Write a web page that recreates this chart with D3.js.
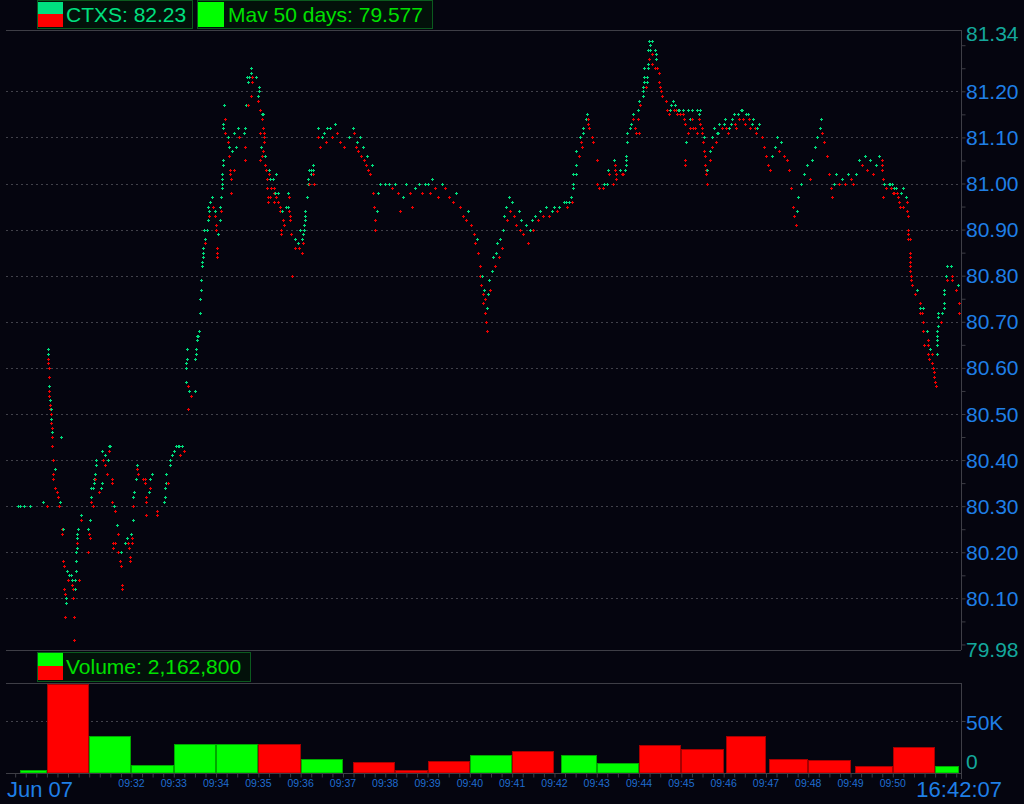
<!DOCTYPE html>
<html><head><meta charset="utf-8">
<script src="https://cdn.jsdelivr.net/npm/d3@7"></script>
<style>html,body{margin:0;background:#05050f;}svg{display:block}</style>
</head><body><svg id="c" width="1024" height="804"></svg>
<script>
// ---------- data ----------
const legendPrice = "CTXS: 82.23";
const legendMav = "Mav 50 days: 79.577";
const legendVolume = "Volume: 2,162,800";
const priceRange = [79.988, 81.333];
const priceTicks = [81.20, 81.10, 81.00, 80.90, 80.80, 80.70, 80.60, 80.50, 80.40, 80.30, 80.20, 80.10];
const priceTickLabels = ["81.20","81.10","81.00","80.90","80.80","80.70","80.60","80.50","80.40","80.30","80.20","80.10"];
const priceEndLabels = ["81.34", "79.98"];
const volumeMax = 86500;
const volumeTicks = [50000];
const volumeTickLabels = ["50K"];
const volumeZeroLabel = "0";
const timeLabelSec = [120,180,240,300,360,420,480,540,600,660,720,780,840,900,960,1020,1080,1140,1200];
const timeLabels = ["09:32","09:33","09:34","09:35","09:36","09:37","09:38","09:39","09:40","09:41","09:42","09:43","09:44","09:45","09:46","09:47","09:48","09:49","09:50"];
const dateLabel = "Jun 07";
const clockLabel = "16:42:07";
const timeDomainSec = [-58, 1296.7]; // seconds from 09:30:00

// trades: [seconds after 09:30:00, price]
const trades = [
[-41,80.30],[-38,80.30],[-33,80.30],[-24,80.30],[-6,80.31],
[0.5,80.30],[1,80.64],[1.3,80.63],[1.6,80.62],[1.9,80.63],[2.2,80.61],[2.5,80.60],[2.8,80.58],[3.1,80.55],[3.4,80.56],[3.7,80.54],[4,80.53],[4.3,80.52],[4.6,80.53],[4.9,80.51],[5.2,80.50],[5.5,80.51],[5.8,80.49],[6.1,80.48],[6.4,80.49],[6.7,80.47],[7,80.46],[7.3,80.45],[7.6,80.46],[7.9,80.43],[8.2,80.40],
[8.5,80.37],[9,80.36],[11,80.38],[12,80.34],[14,80.33],[16,80.32],[17,80.30],[18,80.31],[20,80.45],[21,80.25],[22,80.24],[22.5,80.25],
[23,80.18],[24,80.17],[24.5,80.12],[25,80.11],[26,80.06],[26.5,80.09],[27,80.10],
[29,80.16],[30,80.14],[31,80.15],[34,80.15],[35,80.13],[36,80.14],[37,80.12],[37.5,80.10],[38,80.06],[39,80.01],[40,80.12],[40.5,80.14],[41,80.16],[41.5,80.18],[42,80.20],[42.3,80.21],[42.6,80.23],[43,80.22],[43.3,80.24],[43.6,80.25],[46,80.14],[48,80.28],[48.5,80.27],
[58,80.20],[59,80.25],[60,80.24],[60.5,80.23],[61,80.27],[62,80.32],[62.5,80.31],[63,80.34],[65,80.30],[66,80.34],[67,80.35],[67.5,80.36],[68,80.37],[68.5,80.36],[69,80.39],[69.5,80.40],
[74,80.33],[77,80.34],[78,80.35],[78.5,80.42],[80,80.40],[82,80.39],[83,80.41],[85,80.37],[86,80.40],[88,80.43],[88.5,80.42],[90,80.43],[92,80.36],[92.5,80.35],[93,80.31],
[93.5,80.22],[94,80.21],[95.5,80.30],[96,80.29],[96.5,80.22],[100,80.26],[100.5,80.24],[101,80.20],[104,80.18],[104.5,80.17],[105,80.20],[106,80.13],[106.5,80.12],
[111,80.22],[114,80.23],[115,80.22],[117,80.21],[118,80.19],[118.5,80.18],[120,80.24],[120.5,80.23],[121,80.22],[121.5,80.27],[122,80.32],[122.5,80.30],[124,80.33],
[126,80.36],[128,80.39],[128.5,80.38],[129,80.37],[136,80.36],[139,80.36],[139.5,80.35],[140,80.32],[140.5,80.31],[141,80.28],[145,80.33],[146,80.36],[146.5,80.34],[149,80.37],
[156,80.29],[156.5,80.28],
[166,80.31],[167,80.32],[168,80.34],[168.5,80.35],[169,80.37],[172,80.35],[174,80.39],[175,80.40],[178,80.41],[180,80.42],[183,80.43],[186,80.43],[188,80.43],[189,80.41],[192,80.43],[195,80.42],
[197,80.57],[197.5,80.60],[198,80.61],[198.5,80.62],[199,80.64],[199.5,80.56],[200,80.51],[201,80.55],[205,80.54],[210,80.55],[210.5,80.62],[211,80.63],[211.5,80.64],[213,80.66],[213.5,80.67],[215,80.67],[216,80.68],
[217,80.72],[217.5,80.75],[218,80.77],[218.5,80.79],
[220,80.82],[220.5,80.83],[221,80.84],[221.5,80.85],[222,80.86],[222.5,80.90],[224,80.87],[224.5,80.88],[227,80.90],[228,80.92],[228.5,80.95],[229.5,80.93],[230,80.94],[232,80.96],[234,80.97],[235,80.95],[238,80.93],[239,80.94],[240,80.91],[240.5,80.90],[241,80.86],[241.5,80.85],[242,80.84],[243,80.89],[245,80.92],[246,80.95],[246.5,80.94],[247,80.97],[248,80.99],[248.3,81.00],[248.6,81.01],[249,81.02],[249.3,81.04],[249.6,81.05],
[250,81.12],[250.5,81.13],[251,81.17],[252,81.14],[253,81.11],[257,81.09],[257.5,81.10],[258,81.06],[259,81.08],[259.5,81.03],[260,81.02],[260.5,81.01],[261,80.98],[262,81.07],[265,81.11],[265.5,81.03],[268,81.08],[271,81.12],[272,81.10],
[280,81.11],[280.5,81.12],[281,81.08],[281.5,81.05],[283,81.17],[284,81.23],[285,81.17],[285.5,81.22],[287,81.23],[289,81.24],[289.5,81.19],[290,81.25],[290.5,81.23],[291,81.22],[296,81.23],[299,81.18],[300,81.19],[300.5,81.20],[301,81.21],[302,81.16],[302.5,81.11],[303,81.05],[304,81.08],[304.5,81.06],[305,81.15],[305.5,81.14],[306,81.07],[306.5,81.15],[307,81.12],[307.5,81.11],[308,81.10],[308.5,81.09],[309,81.04],
[310,81.06],[311,81.03],[312,81.01],[312.5,80.99],[313,80.97],[314,80.96],[315,81.03],[315.5,81.02],[316,80.97],[317,81.01],[317.5,80.99],[321,81.01],[321.5,80.99],[322,80.98],[322.5,80.96],[323,80.98],[325,81.02],[325.5,80.97],[328,80.98],[328.5,80.96],[330,80.95],[331,80.94],[331.5,80.90],[332,80.89],[334,80.94],[335,80.92],[337,80.91],[339,80.95],[342,80.95],[342.5,80.98],[343,80.97],[343.5,80.94],[345,80.93],[345.5,80.92],[346,80.89],[347,80.80],
[352,80.88],[352.5,80.86],[356,80.87],[357,80.86],[358,80.86],[359,80.90],[362,80.85],[362.5,80.88],[363,80.89],[364,80.87],[364.5,80.90],[365,80.91],[365.5,80.92],[366,80.93],[366.5,80.94],[369,80.97],[370,81.00],[371,81.01],[371.5,81.03],[372,81.00],[374,81.02],[374.5,81.03],[377,81.03],[377.5,81.02],[378,81.04],[378.5,81.00],[384,81.12],[385,81.10],
[388,81.08],[390,81.10],[393,81.11],[396,81.09],[398,81.12],[401,81.12],[404,81.10],[408,81.13],[412,81.11],
[416,81.09],[422,81.08],[428,81.10],
[434,81.12],[436,81.11],[438,81.08],[440,81.09],[442,81.07],[444,81.10],[446,81.06],[448,81.08],[450,81.05],[452,81.04],[454,81.06],[456,81.03],
[459,81.02],[461,81.04],[463,80.98],[464,80.95],[465,80.92],[466,80.90],[468,80.94],[470,80.98],[472,81.00],
[480,81.00],[486,81.00],[490,80.99],[494,81.00],[498,80.98],[501,80.94],[505,80.97],[510,81.00],[515,80.98],[518,80.95],[522,80.99],[528,81.00],[532,80.98],[536,81.00],[540,81.00],[543,80.98],[546,81.01],[550,80.99],[555,80.97],[560,81.00],[565,80.99],[570,80.97],[576,80.96],[580,80.98],
[586,80.95],[590,80.93],[594,80.92],[598,80.94],[602,80.91],[606,80.89],[608,80.87],[610,80.88],[612,80.85],
[614,80.82],[615,80.80],[616,80.78],[617,80.80],[618,80.76],[619,80.74],[620,80.77],[621,80.75],[622,80.72],[623,80.70],[624,80.68],[625,80.73],[626,80.76],[627,80.79],[629,80.77],[631,80.81],
[633,80.84],[635,80.82],[637,80.85],[639,80.87],[641,80.84],[643,80.88],[645,80.86],[647,80.90],
[649,80.93],[651,80.95],[653,80.92],[655,80.97],[657,80.94],[660,80.96],[663,80.93],[666,80.91],[669,80.94],[671,80.90],
[673,80.92],[676,80.89],[679,80.91],[682,80.87],[685,80.90],[688,80.92],[690,80.90],
[693,80.93],[697,80.92],[700,80.94],[704,80.93],[708,80.95],[712,80.93],[716,80.94],[720,80.95],[724,80.94],
[727,80.95],[733,80.96],[736,80.96],[738,80.95],[741,80.96],[744,80.97],[745,80.96],
[746,80.99],[746.5,81.00],[747,81.02],[750,81.02],[750.5,81.04],[751,81.07],[755,81.06],[756,81.10],[758,81.09],[759,81.08],
[760,81.11],[761,81.12],[765,81.14],[766,81.15],[767,81.14],[768,81.13],[769,81.12],[773,81.10],[774,81.09],
[780,81.05],[781,81.00],[783,80.99],[789,80.99],[790,81.00],[794,81.00],[796,81.03],[797,81.02],[803,81.00],[804,81.05],[806,81.04],[806.5,81.03],[807,81.02],[808,81.01],[813,81.03],[816,81.02],[817,81.02],[820,81.03],[821,81.04],[821.5,81.05],[822,81.06],[822.5,81.09],[823,81.11],
[827,81.12],[828,81.13],[831,81.15],[832,81.14],[834,81.12],[835,81.11],[838,81.16],[839,81.14],[840,81.11],[840.5,81.18],[841,81.17],
[845,81.19],[845.5,81.20],[846,81.21],[846.5,81.22],[847,81.23],[847.5,81.25],[850,81.21],[851,81.22],[851.5,81.23],[852,81.25],[852.5,81.26],[853,81.29],[853.5,81.31],[854,81.27],[855,81.29],[855.5,81.30],[858,81.31],[858.5,81.28],[859,81.26],[862,81.29],[863,81.25],[864,81.27],[864.5,81.28],
[865,81.25],[868,81.24],[869,81.22],[870,81.21],[871,81.20],[872,81.19],[878,81.18],
[879,81.16],[882,81.15],[884,81.16],[886,81.17],[888,81.18],[890,81.16],[891,81.17],[893,81.16],[894,81.15],[895,81.16],[897,81.16],[898,81.15],[902,81.16],[903,81.15],[904,81.14],[904.5,81.13],[905,81.05],[905.5,81.04],[906,81.09],
[909,81.16],[909.5,81.11],[912,81.14],[912.5,81.12],[915,81.16],[915.5,81.14],[916,81.12],[919,81.12],[922,81.16],[922.5,81.11],[925,81.15],[925.5,81.14],[926,81.16],[926.5,81.13],[929,81.12],[930,81.11],[931,81.09],[932,81.10],[932.5,81.07],[933,81.06],[934,81.04],[935,81.03],[935.5,81.02],[936,81.03],[936.5,81.00],
[940,81.07],[941,81.05],[943,81.10],[944,81.08],[946,81.12],[949,81.09],[950,81.11],[952,81.11],[954,81.13],
[958,81.12],[960,81.13],[962,81.14],[964,81.12],[966,81.11],[968,81.12],[970,81.13],[972,81.14],[974,81.15],[976,81.13],[978,81.12],[980,81.15],[982,81.14],[984,81.16],[986,81.16],[988,81.14],[990,81.13],[992,81.15],[994,81.15],[996,81.14],[998,81.12],[1000,81.13],[1002,81.14],[1004,81.12],[1006,81.11],[1008,81.12],[1010,81.13],
[1014,81.10],[1017,81.08],[1020,81.06],[1023,81.04],[1026,81.03],[1029,81.06],
[1033,81.08],[1036,81.10],[1039,81.07],[1042,81.09],[1046,81.06],[1050,81.05],[1053,81.03],
[1056,80.99],[1058,80.95],[1060,80.93],[1062,80.91],[1064,80.94],[1066,80.97],
[1070,81.00],[1074,81.02],[1078,81.04],[1082,81.01],[1086,81.05],
[1090,81.08],[1093,81.10],[1096,81.12],[1098,81.14],[1100,81.11],[1103,81.09],[1106,81.06],
[1110,81.02],[1112,80.99],[1114,80.97],[1117,81.00],[1120,81.02],
[1124,81.00],[1128,81.01],[1132,81.00],[1136,81.02],[1140,81.01],[1144,81.00],[1148,81.02],
[1152,81.05],[1156,81.04],[1160,81.06],[1164,81.03],[1168,81.05],[1172,81.02],[1176,81.04],[1180,81.06],
[1181,81.06],[1184,81.05],[1184.5,81.04],[1185,81.03],[1185.5,81.01],[1186,80.97],[1188,81.00],[1191,80.99],[1194,81.00],[1196,81.00],[1197,80.99],[1199,81.00],[1200,80.98],[1201,80.99],[1202,80.98],
[1205,80.99],[1206,80.98],[1207,80.97],[1209,80.96],[1210,80.95],[1212,80.98],[1214,80.99],[1215,80.95],[1219,80.97],[1219.5,80.96],[1220,80.94],[1221,80.93],[1221.3,80.90],[1221.6,80.89],[1222,80.88],
[1224,80.88],[1224.2,80.85],[1224.4,80.84],[1224.6,80.83],[1224.8,80.82],[1225,80.81],[1225.2,80.80],[1225.5,80.79],[1227,80.78],[1231,80.76],[1234,80.77],[1238,80.74],[1238.5,80.72],[1239,80.73],[1242,80.72],[1242.5,80.70],[1243,80.73],[1243.5,80.68],[1244,80.65],
[1249,80.68],[1249.5,80.66],[1250,80.65],[1250.5,80.63],[1251,80.62],[1253,80.64],[1255,80.63],[1256,80.61],[1257,80.60],[1258,80.59],[1259,80.58],[1260,80.57],[1261,80.56],
[1262,80.63],[1262.3,80.65],[1262.6,80.66],[1263,80.67],[1263.3,80.68],[1263.6,80.69],[1264,80.71],[1264.5,80.72],[1269,80.70],[1270,80.72],[1272,80.73],[1272.3,80.74],[1272.6,80.76],[1273,80.77],[1276,80.80],[1276.5,80.82],[1277,80.79],[1283,80.82],[1283.5,80.80],[1284,80.79],[1289,80.77],[1293,80.78],[1293.5,80.74],[1294,80.72]
];

// one-minute volume bars (seconds after 09:30:00)
const barStart = [-38, 0, 60, 120, 180, 240, 300, 360, 434, 494, 540, 600, 660, 729, 780, 840, 900, 963, 1025, 1080, 1146, 1200, 1260];
const barEnd   = [0, 60, 120, 180, 240, 300, 360, 420, 494, 540, 600, 660, 720, 780, 840, 900, 960, 1020, 1080, 1140, 1200, 1260, 1294];
const barVolume = [2900, 86000, 35500, 7700, 28000, 28000, 28000, 13800, 10300, 3300, 11200, 17000, 20900, 17000, 9300, 27300, 23500, 35600, 13200, 12200, 7100, 24700, 7100];
const barUp = [1, 0, 1, 1, 1, 1, 0, 1, 0, 0, 0, 1, 0, 1, 1, 0, 0, 0, 0, 0, 0, 0, 1];

// ---------- drawing ----------
const W = 1024, H = 804;
const L = 6, R = 961, pTop = 30, pBot = 650, vTop = 683, vBot = 773;
const svg = d3.select("#c");
const FONT = "'Liberation Sans', Arial, sans-serif";
const BLUE = "#1f7fe6", TEAL = "#14a89c", GRID = "#41414a", FRAME = "#3e3e46";
const GREEN_T = "#00dc7c", RED_T = "#ee0000";

svg.append("rect").attr("width", W).attr("height", H).attr("fill", "#05050f");

const base = new Date(2000, 5, 7, 9, 30, 0).getTime();
const toDate = s => new Date(base + s * 1000);
const x = d3.scaleTime().domain(timeDomainSec.map(toDate)).range([L, R]);
const y = d3.scaleLinear().domain(priceRange).range([pBot, pTop]);
const yv = d3.scaleLinear().domain([0, volumeMax]).range([vBot, vTop]);

// price grid
svg.append("g").selectAll("line").data(priceTicks).join("line")
  .attr("x1", L).attr("x2", R)
  .attr("y1", d => Math.round(y(d)) + 0.5).attr("y2", d => Math.round(y(d)) + 0.5)
  .attr("stroke", GRID).attr("stroke-dasharray", "2,3");
// volume grid
svg.append("g").selectAll("line").data(volumeTicks).join("line")
  .attr("x1", L).attr("x2", R)
  .attr("y1", d => Math.round(yv(d)) + 0.5).attr("y2", d => Math.round(yv(d)) + 0.5)
  .attr("stroke", GRID).attr("stroke-dasharray", "2,3");

// frame lines
const hl = (yy) => svg.append("line").attr("x1", L).attr("x2", R).attr("y1", yy + 0.5).attr("y2", yy + 0.5).attr("stroke", FRAME);
hl(pTop); hl(pBot); hl(vTop);

// right price axis (minor ticks every 0.05)
const minor = d3.range(80.00, 81.34, 0.05).map(v => +v.toFixed(2)).filter(v => v > priceRange[0] && v < priceRange[1]);
const ax = d3.axisRight(y).tickValues(minor).tickSize(4).tickFormat("");
const gax = svg.append("g").attr("transform", `translate(${R + 0.5},0)`).call(ax);
gax.select(".domain").attr("stroke", FRAME).attr("d", `M0,${pTop}V${pBot}`);
gax.selectAll(".tick line").attr("stroke", FRAME);

svg.append("g").selectAll("text").data(priceTicks).join("text")
  .attr("x", 966).attr("y", d => y(d)).attr("dy", "0.36em")
  .attr("fill", BLUE).attr("font-family", FONT).attr("font-size", 21)
  .text((d, i) => priceTickLabels[i]);
svg.append("text").attr("x", 966).attr("y", y(priceRange[1]) + 3).attr("dy", "0.36em")
  .attr("fill", TEAL).attr("font-family", FONT).attr("font-size", 21).text(priceEndLabels[0]);
svg.append("text").attr("x", 966).attr("y", y(priceRange[0]) - 1).attr("dy", "0.36em")
  .attr("fill", TEAL).attr("font-family", FONT).attr("font-size", 21).text(priceEndLabels[1]);

// volume axis
const vax = d3.axisRight(yv).tickValues(volumeTicks).tickSize(4).tickFormat("");
const gv = svg.append("g").attr("transform", `translate(${R + 0.5},0)`).call(vax);
gv.select(".domain").attr("stroke", FRAME).attr("d", `M0,${vTop}V${vBot + 6}`);
gv.selectAll(".tick line").attr("stroke", FRAME);
svg.append("g").selectAll("text").data(volumeTicks).join("text")
  .attr("x", 966).attr("y", d => yv(d) + 1).attr("dy", "0.36em")
  .attr("fill", BLUE).attr("font-family", FONT).attr("font-size", 21)
  .text((d, i) => volumeTickLabels[i]);
svg.append("text").attr("x", 966).attr("y", yv(0) - 12).attr("dy", "0.36em")
  .attr("fill", TEAL).attr("font-family", FONT).attr("font-size", 21).text(volumeZeroLabel);

// volume bars
const bars = barVolume.map((v, i) => ({ s: barStart[i], e: barEnd[i], v, up: barUp[i] }));
svg.append("g").selectAll("rect").data(bars).join("rect")
  .attr("x", d => Math.round(x(toDate(d.s))) + 0.5)
  .attr("width", d => Math.max(1, Math.round(x(toDate(d.e))) - Math.round(x(toDate(d.s))) - 1))
  .attr("y", d => Math.round(yv(d.v)) + 0.5)
  .attr("height", d => vBot - Math.round(yv(d.v)) - 0.5)
  .attr("fill", d => d.up ? "#00ff00" : "#ff0000")
  .attr("stroke", d => d.up ? "#00a800" : "#a80000").attr("stroke-width", 1);

// bottom axis (15-second ticks)
const tv = d3.timeSecond.every(15).range(toDate(-45), toDate(1296));
const bax = d3.axisBottom(x).tickValues(tv).tickSize(4).tickFormat("");
const gb = svg.append("g").attr("transform", `translate(0,${vBot + 0.5})`).call(bax);
gb.select(".domain").attr("stroke", FRAME).attr("d", `M${L},0H${R}`);
gb.selectAll(".tick line").attr("stroke", FRAME);

svg.append("g").selectAll("text").data(timeLabelSec).join("text")
  .attr("x", d => x(toDate(d))).attr("y", 787).attr("text-anchor", "middle")
  .attr("fill", "#1f6cd0").attr("font-family", FONT).attr("font-size", 10.5)
  .text((d, i) => timeLabels[i]);
svg.append("text").attr("x", 7).attr("y", 797).attr("fill", BLUE)
  .attr("font-family", FONT).attr("font-size", 22).text(dateLabel);
svg.append("text").attr("x", 1002).attr("y", 797).attr("text-anchor", "end").attr("fill", BLUE)
  .attr("font-family", FONT).attr("font-size", 22).text(clockLabel);

// trade ticks as small crosses, coloured by tick direction
let prevP = null, prevUp = true;
const pts = trades.map(([s, p]) => {
  let up = prevUp;
  if (prevP !== null) { if (p > prevP) up = true; else if (p < prevP) up = false; }
  prevP = p; prevUp = up;
  return { s, p, up };
});
const cross = d => {
  const cx = Math.round(x(toDate(d.s))), cy = Math.round(y(d.p));
  return `M${cx - 1},${cy}h3v1h-3zM${cx},${cy - 1}h1v3h-1z`;
};
svg.append("g").attr("shape-rendering", "crispEdges").selectAll("path").data(pts).join("path")
  .attr("d", cross).attr("fill", d => d.up ? GREEN_T : RED_T);

// legends
function legendBox(x0, y0, w, h) {
  svg.append("rect").attr("x", x0 + 0.5).attr("y", y0 + 0.5).attr("width", w).attr("height", h)
    .attr("fill", "#03110a").attr("stroke", "#0b5a1e");
}
legendBox(37, 0, 155, 28);
svg.append("rect").attr("x", 38).attr("y", 2).attr("width", 25).attr("height", 12).attr("fill", "#00e080");
svg.append("rect").attr("x", 38).attr("y", 14).attr("width", 25).attr("height", 13).attr("fill", "#ff0000");
svg.append("text").attr("x", 66).attr("y", 22).attr("fill", "#00e080").attr("font-family", FONT).attr("font-size", 21).text(legendPrice);
legendBox(197, 0, 235, 28);
svg.append("rect").attr("x", 198).attr("y", 2).attr("width", 26).attr("height", 25).attr("fill", "#00ff00");
svg.append("text").attr("x", 228).attr("y", 22).attr("fill", "#00e000").attr("font-family", FONT).attr("font-size", 21).text(legendMav);

legendBox(37, 652, 213, 29);
svg.append("rect").attr("x", 38).attr("y", 653).attr("width", 25).attr("height", 13).attr("fill", "#00ff00");
svg.append("rect").attr("x", 38).attr("y", 666).attr("width", 25).attr("height", 14).attr("fill", "#ff0000");
svg.append("text").attr("x", 66).attr("y", 674).attr("fill", "#00e000").attr("font-family", FONT).attr("font-size", 21).text(legendVolume);
</script></body></html>
